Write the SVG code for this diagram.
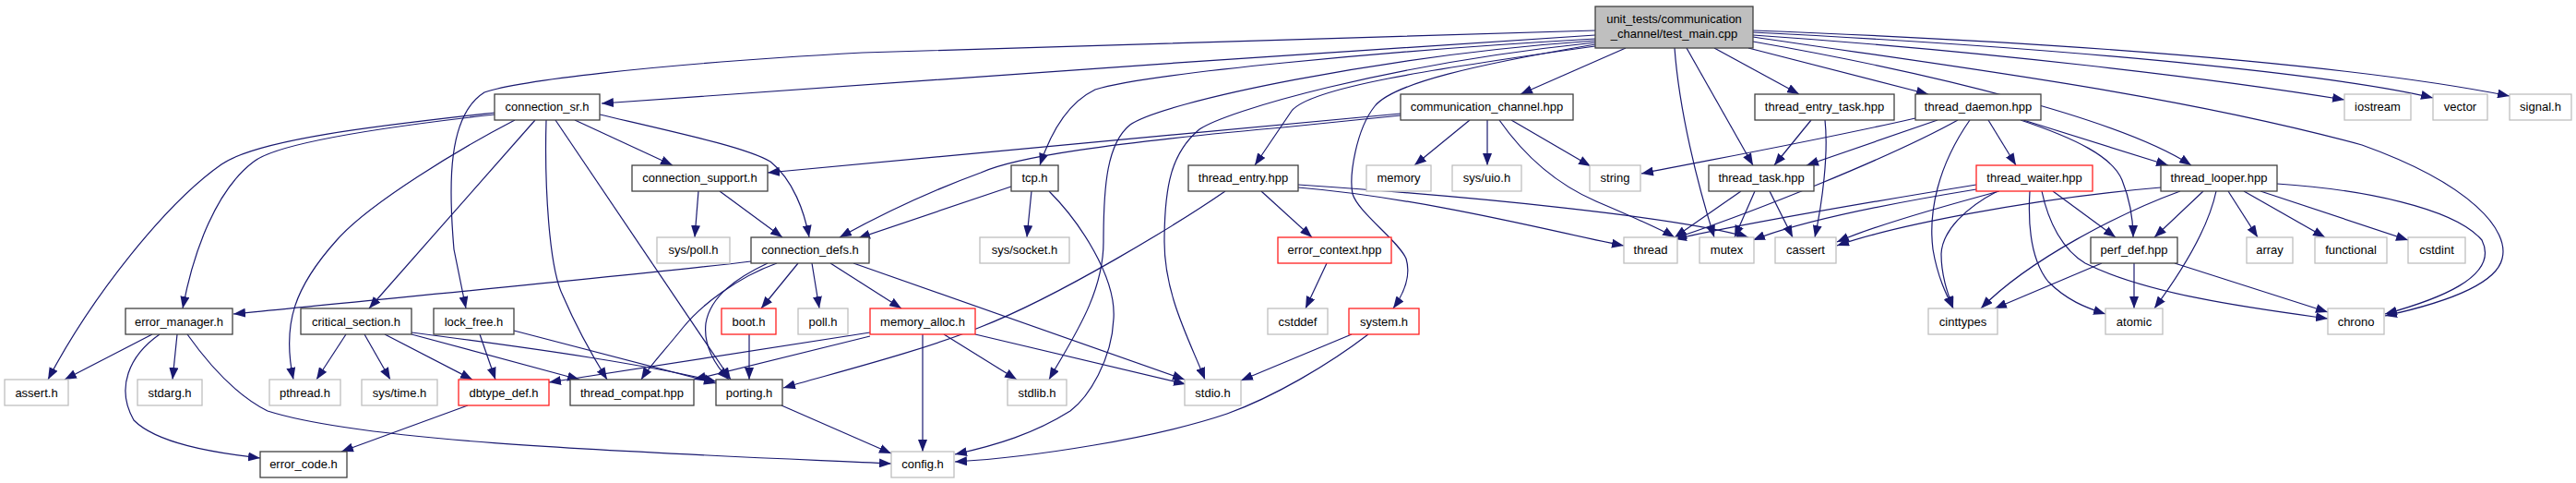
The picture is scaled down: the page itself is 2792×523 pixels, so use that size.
<svg xmlns="http://www.w3.org/2000/svg" width="2792" height="523" viewBox="0 0 2792 523">
<defs>
<marker id="a" markerWidth="13" markerHeight="10" refX="13" refY="5" orient="auto" markerUnits="userSpaceOnUse"><path d="M0,0 L13,5 L0,10 z" fill="#191970"/></marker>
<style>
rect{fill:#fff;stroke:#404040;stroke-width:1.3}
.g rect{stroke:#bfbfbf}
.r rect{stroke:#ff2020}
.root rect{fill:#bfbfbf}
text{font-family:"Liberation Sans",Arial,sans-serif;font-size:13px;text-anchor:middle;fill:#000}
#edges path{fill:none;stroke:#191970;stroke-width:1.2;marker-end:url(#a)}
</style>
</defs>
<rect x="0" y="0" width="2792" height="523" style="fill:#fff;stroke:none"/>
<g id="edges">
<path d="M1729,38 C1400,58 900,95 652,112"/>
<path d="M1729,33 L935,57 C700,70 560,88 525,100 C485,125 486,200 492,270 L505,334"/>
<path d="M1729,42 C1500,55 1240,80 1187,97 C1160,110 1140,140 1127,179"/>
<path d="M1729,44 C1500,60 1260,110 1225,135 C1200,155 1196,200 1196,262 C1196,320 1160,370 1137,411"/>
<path d="M1729,46 C1500,70 1330,120 1300,140 C1270,165 1262,200 1262,262 C1262,320 1290,370 1306,411"/>
<path d="M1729,50 C1550,75 1420,95 1400,120 L1360,179"/>
<path d="M1729,48 C1600,70 1510,90 1490,115 C1470,140 1462,190 1466,210 C1472,230 1515,260 1524,280 C1530,300 1520,320 1510,334"/>
<path d="M1762,52 L1648,102"/>
<path d="M1815,52 C1820,120 1840,200 1858,257"/>
<path d="M1828,52 L1900,179"/>
<path d="M1858,52 L1950,102"/>
<path d="M1895,52 L2090,102"/>
<path d="M1900,38 C2150,55 2400,85 2541,108"/>
<path d="M1900,35 C2300,55 2550,85 2637,106"/>
<path d="M1900,33 C2350,50 2600,80 2720,104"/>
<path d="M1900,40 C2100,70 2350,100 2560,157 C2680,200 2720,250 2712,280 C2705,310 2640,330 2585,342"/>
<path d="M1900,45 C2100,80 2300,130 2375,179"/>
<path d="M2193,130 L2350,179"/>
<path d="M536,122 C420,135 280,150 240,178 C180,220 100,320 52,411"/>
<path d="M536,124 C420,137 300,155 275,175 C235,205 210,270 198,334"/>
<path d="M558,130 C500,160 400,220 365,260 C320,310 305,350 318,411"/>
<path d="M580,130 L400,334"/>
<path d="M592,130 C590,200 595,290 610,320 C625,355 645,390 658,411"/>
<path d="M602,130 L792,411"/>
<path d="M623,130 L729,179"/>
<path d="M650,124 C740,145 810,160 835,175 C860,195 872,230 877,257"/>
<path d="M1518,123 L832,187"/>
<path d="M1518,125 L1400,137 C1200,155 1100,170 1063,187 C1000,210 950,235 910,257"/>
<path d="M1593,130 L1533,179"/>
<path d="M1612,130 L1612,179"/>
<path d="M1638,130 L1724,180"/>
<path d="M1625,130 C1660,180 1700,205 1730,218 C1770,235 1800,248 1815,257"/>
<path d="M1328,207 C1280,240 1150,320 1063,354 C1000,380 900,405 849,420"/>
<path d="M1367,207 L1422,257"/>
<path d="M1407,203 C1550,215 1700,255 1760,266"/>
<path d="M1407,200 C1600,213 1820,235 1895,257"/>
<path d="M1887,207 L1815,257"/>
<path d="M1902,207 L1880,257"/>
<path d="M1918,207 L1943,257"/>
<path d="M1963,130 L1923,179"/>
<path d="M1978,130 C1982,167 1975,220 1967,257"/>
<path d="M2076,128 C1980,150 1870,170 1779,188"/>
<path d="M2100,130 L1958,179"/>
<path d="M2122,130 C2050,170 1900,230 1815,258"/>
<path d="M2135,130 C2100,180 2090,230 2095,270 C2100,300 2110,320 2117,334"/>
<path d="M2155,130 L2185,179"/>
<path d="M2190,130 C2250,150 2290,170 2300,195 C2310,220 2312,240 2312,257"/>
<path d="M2142,200 C2050,215 1900,240 1815,259"/>
<path d="M2142,205 C2050,220 1950,240 1900,260"/>
<path d="M2167,207 C2100,225 2030,245 1991,262"/>
<path d="M2165,207 C2130,225 2105,250 2104,275 C2104,300 2112,320 2117,334"/>
<path d="M2200,207 C2198,240 2200,280 2220,305 C2240,325 2260,333 2282,340"/>
<path d="M2213,207 C2220,240 2235,270 2260,285 C2330,320 2450,335 2523,345"/>
<path d="M2225,207 L2293,257"/>
<path d="M2342,203 C2200,215 2050,245 1991,266"/>
<path d="M2363,207 C2300,230 2200,280 2147,334"/>
<path d="M2388,207 L2335,257"/>
<path d="M2402,207 C2395,240 2375,280 2335,334"/>
<path d="M2415,207 L2447,257"/>
<path d="M2432,207 L2520,257"/>
<path d="M2450,207 L2610,260"/>
<path d="M2468,199 C2560,205 2660,225 2690,260 C2710,300 2640,325 2585,340"/>
<path d="M2278,285 L2162,334"/>
<path d="M2313,285 L2313,334"/>
<path d="M2357,285 L2523,338"/>
<path d="M757,207 L753,257"/>
<path d="M780,207 L848,257"/>
<path d="M1118,207 L1113,257"/>
<path d="M1096,202 L930,258"/>
<path d="M1137,207 C1170,240 1210,300 1207,345 C1205,390 1180,430 1160,445 C1120,470 1080,482 1035,492"/>
<path d="M814,283 C700,297 400,325 253,340"/>
<path d="M842,285 C800,300 760,330 740,355 C720,380 705,395 695,411"/>
<path d="M832,285 C800,300 770,320 765,350 C762,375 775,395 790,411"/>
<path d="M865,285 L825,334"/>
<path d="M880,285 L888,334"/>
<path d="M900,285 L977,334"/>
<path d="M925,285 L1284,411"/>
<path d="M812,362 L812,411"/>
<path d="M943,360 L595,414"/>
<path d="M943,364 L752,411"/>
<path d="M1000,362 L1000,489"/>
<path d="M1023,362 L1102,411"/>
<path d="M1057,362 L1285,416"/>
<path d="M1465,362 L1345,412"/>
<path d="M1483,362 C1440,395 1380,430 1330,448 C1250,475 1120,495 1035,500"/>
<path d="M1438,285 L1415,334"/>
<path d="M375,362 L343,411"/>
<path d="M395,362 L423,411"/>
<path d="M417,362 L512,411"/>
<path d="M446,362 L628,411"/>
<path d="M446,360 C600,380 700,395 776,413"/>
<path d="M520,362 L537,411"/>
<path d="M557,358 L776,415"/>
<path d="M165,362 L70,411"/>
<path d="M192,362 L187,411"/>
<path d="M173,362 C140,385 125,420 145,455 C170,480 230,490 282,496"/>
<path d="M203,362 C230,400 260,430 290,445 C400,480 700,490 966,502"/>
<path d="M507,439 L370,489"/>
<path d="M847,439 L966,491"/>
</g>
<g id="root" class="root"><rect x="1729" y="7" width="171" height="45"/><text x="1814.5" y="25">unit_tests/communication</text><text x="1814.5" y="41">_channel/test_main.cpp</text></g>
<g id="connection_sr"><rect x="536" y="102" width="114" height="28"/><text x="593" y="120">connection_sr.h</text></g>
<g id="communication_channel"><rect x="1518" y="102" width="187" height="28"/><text x="1611.5" y="120">communication_channel.hpp</text></g>
<g id="thread_entry_task"><rect x="1902" y="102" width="151" height="28"/><text x="1977.5" y="120">thread_entry_task.hpp</text></g>
<g id="thread_daemon"><rect x="2076" y="102" width="136" height="28"/><text x="2144" y="120">thread_daemon.hpp</text></g>
<g id="iostream" class="g"><rect x="2541" y="102" width="72" height="28"/><text x="2577" y="120">iostream</text></g>
<g id="vector" class="g"><rect x="2637" y="102" width="59" height="28"/><text x="2666.5" y="120">vector</text></g>
<g id="signal" class="g"><rect x="2720" y="102" width="67" height="28"/><text x="2753.5" y="120">signal.h</text></g>
<g id="connection_support"><rect x="685" y="179" width="147" height="28"/><text x="758.5" y="197">connection_support.h</text></g>
<g id="tcp"><rect x="1096" y="179" width="51" height="28"/><text x="1121.5" y="197">tcp.h</text></g>
<g id="thread_entry"><rect x="1288" y="179" width="119" height="28"/><text x="1347.5" y="197">thread_entry.hpp</text></g>
<g id="memory" class="g"><rect x="1481" y="179" width="70" height="28"/><text x="1516" y="197">memory</text></g>
<g id="sys_uio" class="g"><rect x="1574" y="179" width="75" height="28"/><text x="1611.5" y="197">sys/uio.h</text></g>
<g id="string" class="g"><rect x="1723" y="179" width="55" height="28"/><text x="1750.5" y="197">string</text></g>
<g id="thread_task"><rect x="1852" y="179" width="114" height="28"/><text x="1909" y="197">thread_task.hpp</text></g>
<g id="thread_waiter" class="r"><rect x="2142" y="179" width="126" height="28"/><text x="2205" y="197">thread_waiter.hpp</text></g>
<g id="thread_looper"><rect x="2342" y="179" width="126" height="28"/><text x="2405" y="197">thread_looper.hpp</text></g>
<g id="sys_poll" class="g"><rect x="712" y="257" width="79" height="28"/><text x="751.5" y="275">sys/poll.h</text></g>
<g id="connection_defs"><rect x="814" y="257" width="128" height="28"/><text x="878" y="275">connection_defs.h</text></g>
<g id="sys_socket" class="g"><rect x="1062" y="257" width="97" height="28"/><text x="1110.5" y="275">sys/socket.h</text></g>
<g id="error_context" class="r"><rect x="1385" y="257" width="123" height="28"/><text x="1446.5" y="275">error_context.hpp</text></g>
<g id="thread" class="g"><rect x="1760" y="257" width="58" height="28"/><text x="1789" y="275">thread</text></g>
<g id="mutex" class="g"><rect x="1842" y="257" width="59" height="28"/><text x="1871.5" y="275">mutex</text></g>
<g id="cassert" class="g"><rect x="1924" y="257" width="66" height="28"/><text x="1957" y="275">cassert</text></g>
<g id="perf_def"><rect x="2266" y="257" width="94" height="28"/><text x="2313" y="275">perf_def.hpp</text></g>
<g id="array" class="g"><rect x="2435" y="257" width="50" height="28"/><text x="2460" y="275">array</text></g>
<g id="functional" class="g"><rect x="2509" y="257" width="78" height="28"/><text x="2548" y="275">functional</text></g>
<g id="cstdint" class="g"><rect x="2610" y="257" width="62" height="28"/><text x="2641" y="275">cstdint</text></g>
<g id="error_manager"><rect x="136" y="334" width="116" height="28"/><text x="194" y="353">error_manager.h</text></g>
<g id="critical_section"><rect x="326" y="334" width="120" height="28"/><text x="386" y="353">critical_section.h</text></g>
<g id="lock_free"><rect x="470" y="334" width="87" height="28"/><text x="513.5" y="353">lock_free.h</text></g>
<g id="boot" class="r"><rect x="782" y="334" width="59" height="28"/><text x="811.5" y="353">boot.h</text></g>
<g id="poll" class="g"><rect x="865" y="334" width="54" height="28"/><text x="892" y="353">poll.h</text></g>
<g id="memory_alloc" class="r"><rect x="943" y="334" width="114" height="28"/><text x="1000" y="353">memory_alloc.h</text></g>
<g id="cstddef" class="g"><rect x="1374" y="334" width="65" height="28"/><text x="1406.5" y="353">cstddef</text></g>
<g id="system" class="r"><rect x="1462" y="334" width="76" height="28"/><text x="1500" y="353">system.h</text></g>
<g id="cinttypes" class="g"><rect x="2090" y="334" width="75" height="28"/><text x="2127.5" y="353">cinttypes</text></g>
<g id="atomic" class="g"><rect x="2282" y="334" width="62" height="28"/><text x="2313" y="353">atomic</text></g>
<g id="chrono" class="g"><rect x="2523" y="334" width="61" height="28"/><text x="2553.5" y="353">chrono</text></g>
<g id="assert" class="g"><rect x="5" y="411" width="69" height="28"/><text x="39.5" y="430">assert.h</text></g>
<g id="stdarg" class="g"><rect x="149" y="411" width="70" height="28"/><text x="184" y="430">stdarg.h</text></g>
<g id="pthread" class="g"><rect x="292" y="411" width="77" height="28"/><text x="330.5" y="430">pthread.h</text></g>
<g id="sys_time" class="g"><rect x="392" y="411" width="82" height="28"/><text x="433" y="430">sys/time.h</text></g>
<g id="dbtype_def" class="r"><rect x="497" y="411" width="98" height="28"/><text x="546" y="430">dbtype_def.h</text></g>
<g id="thread_compat"><rect x="618" y="411" width="134" height="28"/><text x="685" y="430">thread_compat.hpp</text></g>
<g id="porting"><rect x="776" y="411" width="72" height="28"/><text x="812" y="430">porting.h</text></g>
<g id="stdlib" class="g"><rect x="1092" y="411" width="64" height="28"/><text x="1124" y="430">stdlib.h</text></g>
<g id="stdio" class="g"><rect x="1284" y="411" width="61" height="28"/><text x="1314.5" y="430">stdio.h</text></g>
<g id="error_code"><rect x="282" y="489" width="94" height="28"/><text x="329" y="507">error_code.h</text></g>
<g id="config" class="g"><rect x="966" y="489" width="68" height="28"/><text x="1000" y="507">config.h</text></g>
</svg>
